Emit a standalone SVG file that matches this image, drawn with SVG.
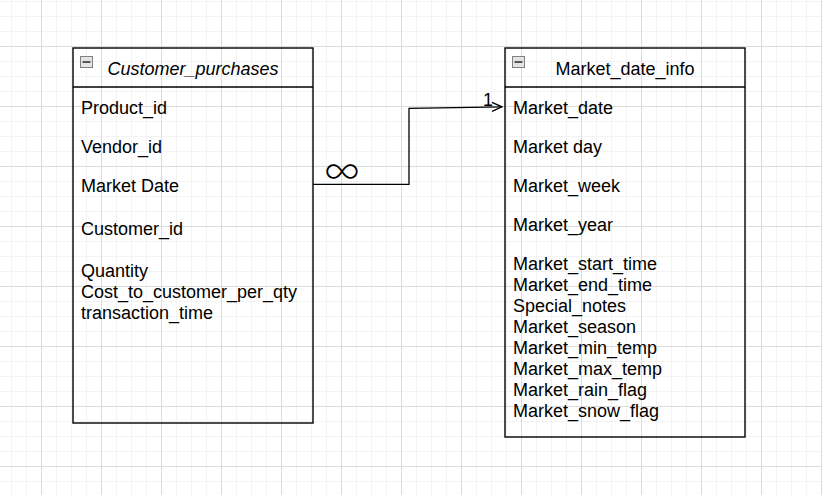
<svg xmlns="http://www.w3.org/2000/svg" width="822" height="495" viewBox="0 0 822 495">
<defs>
<pattern id="grid" patternUnits="userSpaceOnUse" x="41" y="46" width="60" height="60">
<path d="M15.5 0V60M30.5 0V60M45.5 0V60M0 15.5H60M0 30.5H60M0 45.5H60" stroke="#f3f3f3" stroke-width="1" fill="none"/>
<path d="M0.5 0V60M0 0.5H60" stroke="#dcdcdc" stroke-width="1" fill="none"/>
</pattern>
<marker id="open" markerUnits="userSpaceOnUse" markerWidth="14" markerHeight="14" refX="11" refY="6" orient="auto">
<path d="M1 1.5L11 6L1 10.5" fill="none" stroke="#000" stroke-width="1.3"/>
</marker>
</defs>
<style>
.box{fill:none;stroke:#000;stroke-width:1.4}
.t{font-family:"Liberation Sans",Arial,sans-serif;font-size:18px;fill:#000}
.h{font-family:"Liberation Sans",Arial,sans-serif;font-size:18px;fill:#000;text-anchor:middle}
.icon{fill:#e4e4e4;stroke:#808080;stroke-width:1}
.dash{stroke:#333;stroke-width:1.6}
</style>
<rect width="822" height="495" fill="#fff"/>
<rect width="822" height="495" fill="url(#grid)"/>
<g id="connectors">
<path d="M313 184.3H409V108.3L502 106.8" fill="none" stroke="#000" stroke-width="1.3" marker-end="url(#open)"/>
<text x="483" y="106" class="t" font-size="17">1</text>
<text x="342" y="184" font-family="Inter,sans-serif" font-weight="200" font-size="40" text-anchor="middle" fill="#000">∞</text>
</g>
<g id="customer_purchases">
<rect class="box" x="73" y="48" width="240" height="375"/>
<line class="box" x1="73" y1="87" x2="313" y2="87"/>
<rect class="icon" x="80.5" y="56.5" width="12" height="11"/>
<line class="dash" x1="82.5" y1="62" x2="90.5" y2="62"/>
<text class="h" x="193" y="75" font-style="italic">Customer_purchases</text>
<text class="t" x="81" y="114">Product_id</text>
<text class="t" x="81" y="153">Vendor_id</text>
<text class="t" x="81" y="192">Market Date</text>
<text class="t" x="81" y="235">Customer_id</text>
<text class="t" x="81" y="277">Quantity</text>
<text class="t" x="81" y="298">Cost_to_customer_per_qty</text>
<text class="t" x="81" y="319">transaction_time</text>
</g>
<g id="market_date_info">
<rect class="box" x="505" y="48" width="240" height="389"/>
<line class="box" x1="505" y1="87" x2="745" y2="87"/>
<rect class="icon" x="512.5" y="56.5" width="12" height="11"/>
<line class="dash" x1="514.5" y1="62" x2="522.5" y2="62"/>
<text class="h" x="625" y="75">Market_date_info</text>
<text class="t" x="513" y="114">Market_date</text>
<text class="t" x="513" y="153">Market day</text>
<text class="t" x="513" y="192">Market_week</text>
<text class="t" x="513" y="231">Market_year</text>
<text class="t" x="513" y="270">Market_start_time</text>
<text class="t" x="513" y="291">Market_end_time</text>
<text class="t" x="513" y="312">Special_notes</text>
<text class="t" x="513" y="333">Market_season</text>
<text class="t" x="513" y="354">Market_min_temp</text>
<text class="t" x="513" y="375">Market_max_temp</text>
<text class="t" x="513" y="396">Market_rain_flag</text>
<text class="t" x="513" y="417">Market_snow_flag</text>
</g>
</svg>
